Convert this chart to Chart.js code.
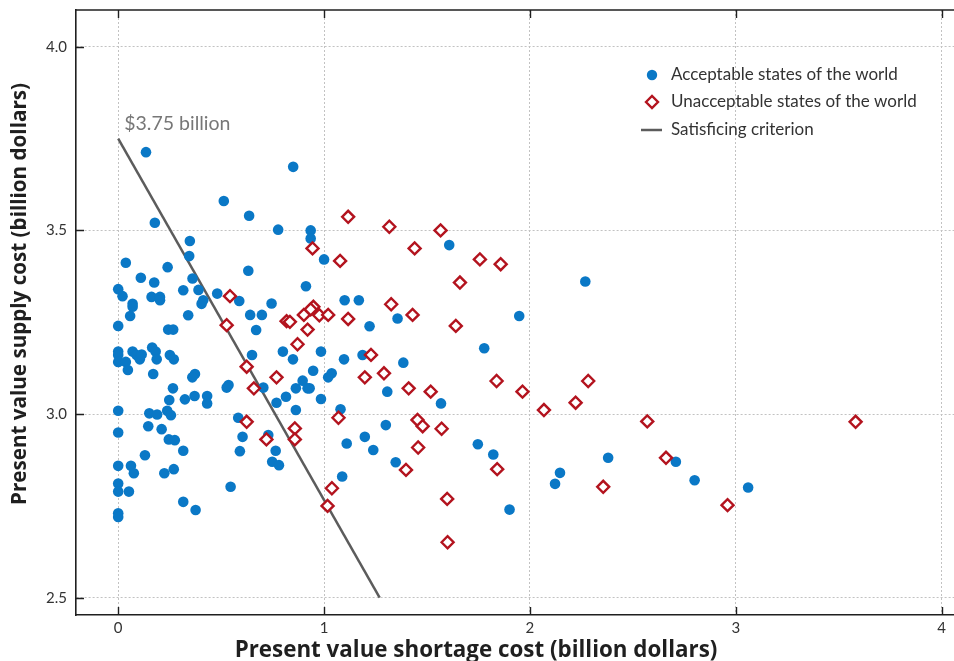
<!DOCTYPE html>
<html>
<head>
<meta charset="utf-8">
<script src="https://cdn.jsdelivr.net/npm/chart.js@4.4.1/dist/chart.umd.min.js"></script>
<style>
  html, body { margin: 0; padding: 0; background: #fff; }
  canvas { display: block; }
</style>
</head>
<body>
<canvas id="chart" width="954" height="661"></canvas>
<script>
// Present value shortage cost (x) vs supply cost (y), billion dollars
const acceptable = [
  [0.135, 3.713], [0.85, 3.673], [0.513, 3.580], [0.636, 3.540], [0.178, 3.521],
  [0.777, 3.502], [0.935, 3.500], [0.935, 3.478], [0.348, 3.471], [0.345, 3.430],
  [0.037, 3.412], [0.240, 3.400], [0.632, 3.390], [0.110, 3.371], [0.361, 3.369],
  [0.175, 3.358], [0.000, 3.340], [0.316, 3.337], [0.390, 3.338], [0.912, 3.348],
  [0.021, 3.321], [0.162, 3.319], [0.203, 3.319], [0.203, 3.310], [0.481, 3.328],
  [0.588, 3.308], [0.413, 3.310], [0.405, 3.300], [0.745, 3.301], [0.070, 3.300],
  [0.070, 3.292], [0.058, 3.267], [0.340, 3.269], [0.641, 3.270], [0.698, 3.270],
  [0.000, 3.240], [0.243, 3.230], [0.267, 3.230], [0.670, 3.229], [1.000, 3.421],
  [1.100, 3.310], [1.169, 3.310], [1.221, 3.239], [1.357, 3.260], [0.650, 3.161],
  [0.800, 3.170], [0.849, 3.149], [0.985, 3.170], [1.097, 3.149], [1.187, 3.161],
  [1.385, 3.140], [0.947, 3.118], [1.037, 3.111], [1.020, 3.100], [0.373, 3.109],
  [0.360, 3.100], [0.536, 3.079], [0.527, 3.072], [0.705, 3.072], [0.896, 3.091],
  [0.863, 3.070], [0.920, 3.070], [0.930, 3.070], [0.815, 3.047], [0.769, 3.031],
  [0.985, 3.041], [1.307, 3.061], [0.324, 3.040], [0.371, 3.049], [0.432, 3.049],
  [0.432, 3.029], [0.863, 3.011], [1.080, 3.013], [0.583, 2.990], [1.300, 2.970],
  [0.604, 2.938], [0.729, 2.943], [1.198, 2.938], [0.591, 2.899], [0.765, 2.900],
  [1.110, 2.920], [1.239, 2.902], [0.748, 2.870], [0.781, 2.861], [1.348, 2.869],
  [1.088, 2.830], [0.546, 2.802], [0.316, 2.761], [0.376, 2.739], [0.000, 3.170],
  [0.000, 3.161], [0.000, 3.142], [0.070, 3.170], [0.089, 3.161], [0.105, 3.149],
  [0.114, 3.162], [0.165, 3.181], [0.182, 3.170], [0.187, 3.149], [0.251, 3.161],
  [0.270, 3.149], [0.037, 3.142], [0.047, 3.120], [0.170, 3.109], [0.266, 3.070],
  [0.248, 3.038], [0.000, 3.009], [0.151, 3.002], [0.189, 2.999], [0.238, 3.009],
  [0.256, 2.997], [0.000, 2.950], [0.146, 2.967], [0.211, 2.959], [0.246, 2.931],
  [0.275, 2.929], [0.316, 2.900], [0.130, 2.888], [0.000, 2.859], [0.062, 2.859],
  [0.076, 2.839], [0.224, 2.839], [0.270, 2.850], [0.000, 2.811], [0.000, 2.789],
  [0.052, 2.789], [0.000, 2.730], [0.000, 2.720], [1.608, 3.460], [2.269, 3.361],
  [1.948, 3.267], [1.778, 3.179], [1.568, 3.029], [1.747, 2.918], [1.822, 2.890],
  [2.380, 2.881], [2.146, 2.840], [2.122, 2.810], [1.901, 2.740], [2.709, 2.870],
  [2.800, 2.820], [3.060, 2.800]
];

const unacceptable = [
  [0.944, 3.451], [0.543, 3.321], [0.527, 3.242], [1.117, 3.537], [1.317, 3.510],
  [1.566, 3.500], [1.078, 3.417], [1.440, 3.451], [1.326, 3.299], [1.430, 3.270],
  [0.948, 3.292], [0.935, 3.285], [0.902, 3.270], [0.977, 3.269], [1.020, 3.270],
  [1.117, 3.259], [0.818, 3.253], [0.834, 3.251], [0.920, 3.230], [0.871, 3.190],
  [1.228, 3.161], [0.624, 3.129], [0.769, 3.100], [1.198, 3.100], [1.291, 3.111],
  [0.659, 3.070], [1.411, 3.070], [1.518, 3.061], [0.624, 2.979], [1.070, 2.990],
  [0.858, 2.961], [1.454, 2.984], [1.479, 2.967], [0.720, 2.931], [0.858, 2.931],
  [1.457, 2.909], [1.398, 2.848], [1.038, 2.798], [1.017, 2.750], [1.757, 3.421],
  [1.858, 3.408], [1.660, 3.358], [1.640, 3.240], [1.838, 3.090], [2.283, 3.090],
  [1.964, 3.061], [2.222, 3.031], [2.068, 3.011], [1.571, 2.960], [1.841, 2.850],
  [2.356, 2.802], [1.598, 2.769], [1.600, 2.651], [2.570, 2.980], [3.582, 2.979],
  [2.661, 2.881], [2.960, 2.752]
];

// Satisficing criterion: total cost of $3.75 billion
const criterion = [[0, 3.75], [1.27, 2.5]];
const criterionLabel = '$3.75 billion';

const xTicks = [0, 1, 2, 3, 4];
const yTicks = [2.5, 3.0, 3.5, 4.0];

const seriesNames = [
  'Acceptable states of the world',
  'Unacceptable states of the world',
  'Satisficing criterion'
];
const xTitle = 'Present value shortage cost (billion dollars)';
const yTitle = 'Present value supply cost (billion dollars)';

const BLUE = '#0a78c6';
const RED = '#b3131e';
const GREY = '#5c5c5c';
const INK = '#1f1f1f';
const TEXT = '#333333';
const FONT = 'Lato, "Open Sans", "DejaVu Sans", sans-serif';
const TITLE_FONT = '"Open Sans", Lato, "DejaVu Sans", sans-serif';

const toPoints = arr => arr.map(([x, y]) => ({ x, y }));

// font size that makes a string span the given width
function fitFont(ctx, text, prefix, family, width) {
  ctx.font = prefix + ' 100px ' + family;
  const size = 100 * width / ctx.measureText(text).width;
  return prefix + ' ' + size.toFixed(2) + 'px ' + family;
}

// keep the plot area exactly where the layout puts it
function fixAxis(prop, size) {
  return s => {
    s[prop] = size;
    s.paddingTop = 0; s.paddingBottom = 0;
    s.paddingLeft = 0; s.paddingRight = 0;
  };
}

// Frame, inward ticks, legend, annotation and axis titles
const decorations = {
  id: 'decorations',
  afterDraw(chart) {
    const { ctx, chartArea: a, scales: { x, y } } = chart;
    ctx.save();

    // top border
    ctx.strokeStyle = INK;
    ctx.lineWidth = 1.6;
    ctx.beginPath();
    ctx.moveTo(a.left, a.top);
    ctx.lineTo(a.right, a.top);
    ctx.stroke();

    // tick marks pointing into the plot
    ctx.lineWidth = 1.4;
    ctx.beginPath();
    xTicks.forEach(v => {
      const px = Math.round(x.getPixelForValue(v)) + 0.5;
      ctx.moveTo(px, a.bottom); ctx.lineTo(px, a.bottom - 8);
      ctx.moveTo(px, a.top); ctx.lineTo(px, a.top + 8);
    });
    yTicks.forEach(v => {
      const py = Math.round(y.getPixelForValue(v)) + 0.5;
      ctx.moveTo(a.left, py); ctx.lineTo(a.left + 8, py);
    });
    ctx.stroke();

    // criterion annotation
    ctx.fillStyle = '#777777';
    ctx.font = '19.5px ' + FONT;
    ctx.textAlign = 'left';
    ctx.textBaseline = 'middle';
    ctx.fillText(criterionLabel, x.getPixelForValue(criterion[0][0]) + 6,
                 y.getPixelForValue(criterion[0][1]) - 15);

    // legend
    const lx = 652, tx = 671, rows = [75, 102, 130];
    ctx.fillStyle = BLUE;
    ctx.beginPath();
    ctx.arc(lx, rows[0], 5.2, 0, Math.PI * 2);
    ctx.fill();

    ctx.fillStyle = '#fff';
    ctx.strokeStyle = RED;
    ctx.lineWidth = 2.4;
    ctx.beginPath();
    ctx.moveTo(lx - 6, rows[1]); ctx.lineTo(lx, rows[1] - 6);
    ctx.lineTo(lx + 6, rows[1]); ctx.lineTo(lx, rows[1] + 6);
    ctx.closePath();
    ctx.fill(); ctx.stroke();

    ctx.strokeStyle = GREY;
    ctx.lineWidth = 2.5;
    ctx.beginPath();
    ctx.moveTo(641, rows[2]); ctx.lineTo(662, rows[2]);
    ctx.stroke();

    ctx.fillStyle = TEXT;
    ctx.font = '17px ' + FONT;
    seriesNames.forEach((n, i) => ctx.fillText(n, tx, rows[i]));

    // axis titles
    ctx.fillStyle = INK;
    ctx.textAlign = 'center';
    ctx.font = fitFont(ctx, xTitle, 'bold', TITLE_FONT, 483);
    ctx.fillText(xTitle, 476, 651);
    ctx.font = fitFont(ctx, yTitle, 'bold', TITLE_FONT, 422);
    ctx.translate(20, 294);
    ctx.rotate(-Math.PI / 2);
    ctx.fillText(yTitle, 0, 0);

    ctx.restore();
  }
};

new Chart(document.getElementById('chart'), {
  type: 'scatter',
  data: {
    datasets: [
      {
        label: seriesNames[1],
        data: toPoints(unacceptable),
        pointStyle: 'rectRot',
        pointRadius: 6,
        pointBackgroundColor: '#ffffff',
        pointBorderColor: RED,
        pointBorderWidth: 2.4,
        order: 1
      },
      {
        label: seriesNames[0],
        data: toPoints(acceptable),
        pointStyle: 'circle',
        pointRadius: 5.3,
        pointBackgroundColor: BLUE,
        pointBorderWidth: 0,
        order: 2
      },
      {
        type: 'line',
        label: seriesNames[2],
        data: toPoints(criterion),
        borderColor: GREY,
        borderWidth: 2.5,
        pointRadius: 0,
        fill: false,
        order: 3
      }
    ]
  },
  options: {
    responsive: false,
    animation: false,
    layout: { autoPadding: false, padding: { top: 10, right: 0, bottom: 0, left: 0 } },
    plugins: { legend: { display: false }, tooltip: { enabled: false } },
    scales: {
      x: {
        type: 'linear',
        min: -0.205,
        max: 4.06,
        afterBuildTicks: s => { s.ticks = xTicks.map(v => ({ value: v })); },
        afterFit: fixAxis('height', 46),
        grid: { color: '#c2c2c2', lineWidth: 1, drawTicks: false },
        border: { display: true, color: INK, width: 1.6, dash: [2, 2] },
        ticks: {
          padding: 4, color: TEXT, maxRotation: 0, autoSkip: false,
          font: { family: FONT, size: 15 },
          callback: v => String(v)
        }
      },
      y: {
        type: 'linear',
        min: 2.453,
        max: 4.1,
        afterBuildTicks: s => { s.ticks = yTicks.map(v => ({ value: v })); },
        afterFit: fixAxis('width', 76),
        grid: { color: '#c2c2c2', lineWidth: 1, drawTicks: false },
        border: { display: true, color: INK, width: 1.6, dash: [2, 2] },
        ticks: {
          padding: 9, color: TEXT, autoSkip: false,
          font: { family: FONT, size: 15 },
          callback: v => v.toFixed(1)
        }
      }
    }
  },
  plugins: [decorations]
});
</script>
</body>
</html>
